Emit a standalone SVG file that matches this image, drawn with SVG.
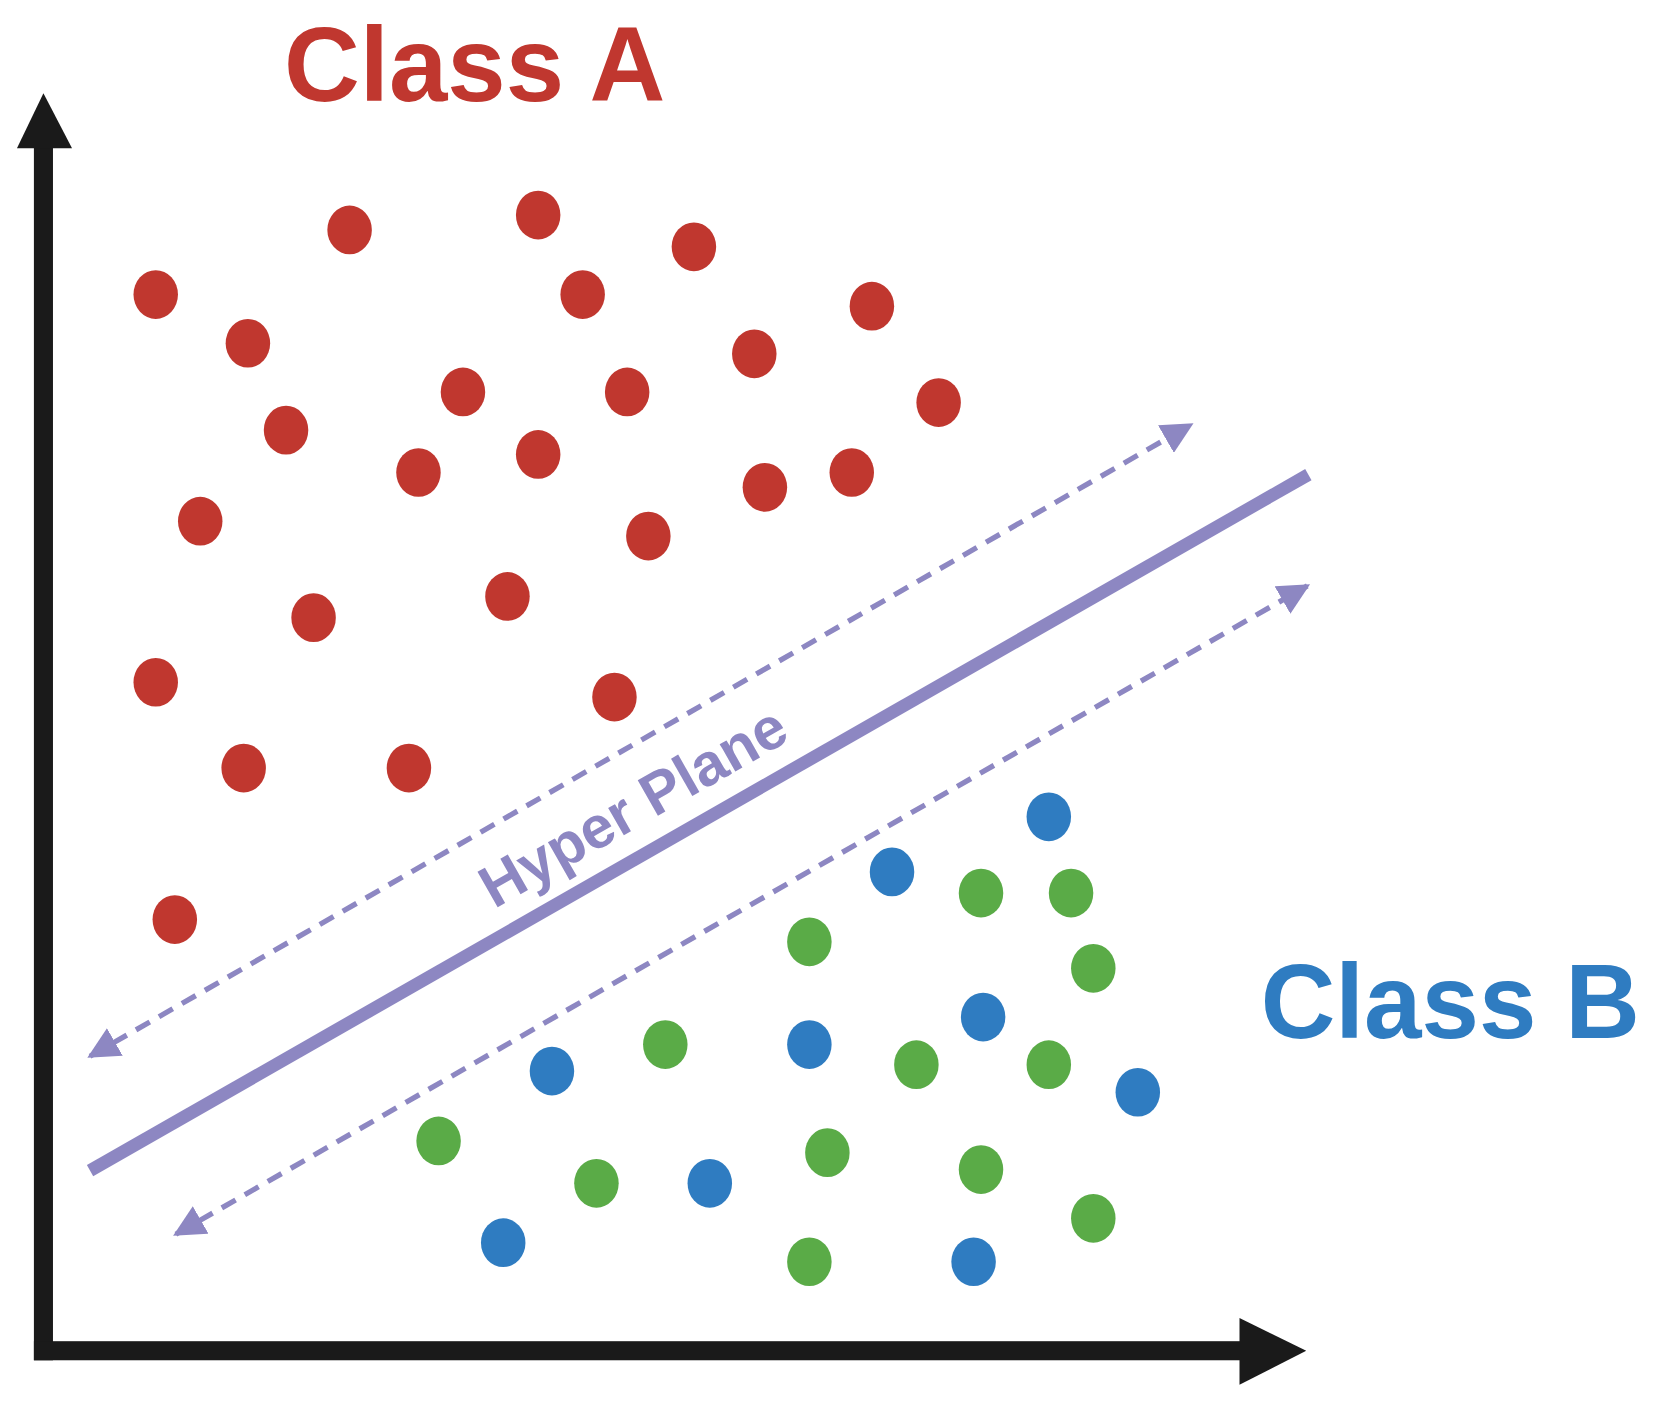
<svg xmlns="http://www.w3.org/2000/svg" width="1661" height="1404" viewBox="0 0 1661 1404">
<style>
.a{fill:#c0372f}.b{fill:#2f7cc1}.g{fill:#5aab47}
.t{font-family:"Liberation Sans",Arial,sans-serif;font-weight:bold}
.d{stroke:#8d87c2;stroke-width:5;stroke-dasharray:15 10;fill:none}
</style>
<defs>
<marker id="m" viewBox="0 0 10 10" refX="9" refY="5" markerWidth="6" markerHeight="6" orient="auto-start-reverse"><path d="M0,0L10,5L0,10z" fill="#8d87c2"/></marker>
</defs>
<rect width="1661" height="1404" fill="#fff"/>
<g transform="scale(1.0594)">
<g id="axes" fill="#1a1a1a">
<rect x="32" y="138" width="18" height="1146"/>
<path d="M16,140L41,88L68,140z"/>
<rect x="32" y="1266" width="1140" height="18"/>
<path d="M1170,1244L1233,1275L1170,1307z"/>
</g>
<g id="connectors">
<line x1="85" y1="1105" x2="1235" y2="448" stroke="#8d87c2" stroke-width="12"/>
<line class="d" x1="85" y1="997" x2="1124" y2="401" marker-start="url(#m)" marker-end="url(#m)"/>
<line class="d" x1="166" y1="1165" x2="1234" y2="553" marker-start="url(#m)" marker-end="url(#m)"/>
</g>
<g id="labels" class="t">
<text x="268" y="95" font-size="100" fill="#c0372f" textLength="360" lengthAdjust="spacingAndGlyphs">Class A</text>
<text x="1190" y="980" font-size="100" fill="#2f7cc1" textLength="358" lengthAdjust="spacingAndGlyphs">Class B</text>
<text x="0" y="0" font-size="56" fill="#8d87c2" transform="translate(607,778) rotate(-29.7)" text-anchor="middle">Hyper Plane</text>
</g>
<g id="classA" class="a">
<ellipse cx="330" cy="217" rx="21" ry="23"/><ellipse cx="508" cy="203" rx="21" ry="23"/><ellipse cx="655" cy="233" rx="21" ry="23"/><ellipse cx="147" cy="278" rx="21" ry="23"/><ellipse cx="550" cy="278" rx="21" ry="23"/><ellipse cx="823" cy="289" rx="21" ry="23"/><ellipse cx="234" cy="324" rx="21" ry="23"/><ellipse cx="712" cy="334" rx="21" ry="23"/><ellipse cx="437" cy="370" rx="21" ry="23"/><ellipse cx="592" cy="370" rx="21" ry="23"/><ellipse cx="886" cy="380" rx="21" ry="23"/><ellipse cx="270" cy="406" rx="21" ry="23"/><ellipse cx="395" cy="446" rx="21" ry="23"/><ellipse cx="508" cy="429" rx="21" ry="23"/><ellipse cx="722" cy="460" rx="21" ry="23"/><ellipse cx="804" cy="446" rx="21" ry="23"/><ellipse cx="189" cy="492" rx="21" ry="23"/><ellipse cx="612" cy="506" rx="21" ry="23"/><ellipse cx="479" cy="563" rx="21" ry="23"/><ellipse cx="296" cy="583" rx="21" ry="23"/><ellipse cx="147" cy="644" rx="21" ry="23"/><ellipse cx="580" cy="658" rx="21" ry="23"/><ellipse cx="230" cy="725" rx="21" ry="23"/><ellipse cx="386" cy="725" rx="21" ry="23"/><ellipse cx="165" cy="868" rx="21" ry="23"/>
</g>
<g id="classB-blue" class="b">
<ellipse cx="990" cy="771" rx="21" ry="23"/><ellipse cx="842" cy="823" rx="21" ry="23"/><ellipse cx="928" cy="960" rx="21" ry="23"/><ellipse cx="764" cy="986" rx="21" ry="23"/><ellipse cx="521" cy="1011" rx="21" ry="23"/><ellipse cx="1074" cy="1031" rx="21" ry="23"/><ellipse cx="670" cy="1117" rx="21" ry="23"/><ellipse cx="475" cy="1173" rx="21" ry="23"/><ellipse cx="919" cy="1191" rx="21" ry="23"/>
</g>
<g id="classB-green" class="g">
<ellipse cx="926" cy="843" rx="21" ry="23"/><ellipse cx="1011" cy="843" rx="21" ry="23"/><ellipse cx="764" cy="889" rx="21" ry="23"/><ellipse cx="1032" cy="914" rx="21" ry="23"/><ellipse cx="628" cy="986" rx="21" ry="23"/><ellipse cx="865" cy="1005" rx="21" ry="23"/><ellipse cx="990" cy="1005" rx="21" ry="23"/><ellipse cx="414" cy="1077" rx="21" ry="23"/><ellipse cx="781" cy="1088" rx="21" ry="23"/><ellipse cx="563" cy="1117" rx="21" ry="23"/><ellipse cx="926" cy="1104" rx="21" ry="23"/><ellipse cx="1032" cy="1150" rx="21" ry="23"/><ellipse cx="764" cy="1191" rx="21" ry="23"/>
</g>
</g>
</svg>
